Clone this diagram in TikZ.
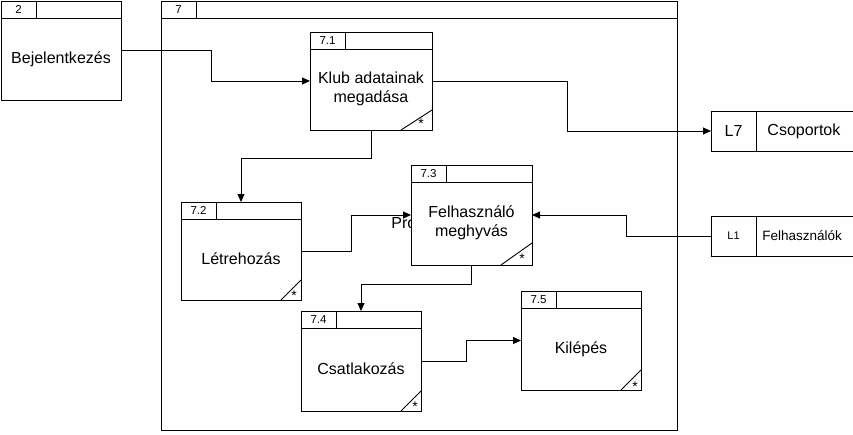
\documentclass[tikz,border=0pt]{standalone}
\usepackage{fontspec}
\setmainfont{Liberation Sans}
\usetikzlibrary{arrows.meta}

\tikzset{
    proc/.style={draw, fill=white, rectangle, inner sep=0pt, outer sep=0pt, anchor=north west},
    store/.style={draw, fill=white, rectangle, inner sep=0pt, outer sep=0pt, anchor=north west},
    title/.style={font=\fontsize{16}{18.5}\selectfont, align=center, inner sep=1pt},
    numlbl/.style={font=\fontsize{11.5}{13}\selectfont, inner sep=0pt},
    starlbl/.style={font=\fontsize{14}{16}\selectfont, inner sep=0pt},
    flow/.style={->}
}

\begin{document}
\begin{tikzpicture}[
    x=1pt, y=-1pt,
    >={Triangle[length=8pt,width=7pt]},
    line width=0.9pt
]
    \useasboundingbox (0,0) rectangle (853,434);

    % --- Outer processes ---
    \node[proc, minimum width=120pt, minimum height=99pt] (p2) at (1,1) {};
    \node[proc, minimum width=516pt, minimum height=429pt] (p7) at (161,1) {};

    % text partly hidden behind 7.3
    \node[title, anchor=base west, inner sep=0pt] (pro) at (391,228) {Pro};

    % --- Sub processes ---
    \node[proc, minimum width=122pt, minimum height=98pt] (p71) at (310,32) {};
    \node[proc, minimum width=120pt, minimum height=98pt] (p72) at (181,202) {};
    \node[proc, minimum width=121pt, minimum height=100pt] (p73) at (411,165) {};
    \node[proc, minimum width=120pt, minimum height=100pt] (p74) at (301,311) {};
    \node[proc, minimum width=120pt, minimum height=99pt] (p75) at (521,291) {};

    % headers
    \foreach \n/\num in {p2/2, p7/7, p71/7.1, p72/7.2, p73/7.3, p74/7.4, p75/7.5} {
        \draw ([yshift=-17pt]\n.north west) -- ([yshift=-17pt]\n.north east);
        \draw ([xshift=35pt]\n.north west) -- ++(0,17);
        \node[numlbl] (\n-num) at ([xshift=17.5pt,yshift=-8.5pt]\n.north west) {\num};
    }

    % corners
    \foreach \n/\w/\h/\sx/\sy in {p71/31/20/11/6, p72/20/20/7/4, p73/31/22/10/6, p74/20/20/6/4, p75/20/20/6/3} {
        \draw ([xshift=-\w pt]\n.south east) -- ([yshift=\h pt]\n.south east);
        \node[starlbl] (\n-star) at ([xshift=-\sx pt,yshift=\sy pt]\n.south east) {*};
    }

    % names
    \node[title] (p2-t) at ([yshift=-9pt]p2.center) {Bejelentkezés};
    \node[title] (p71-t) at ([yshift=-8pt]p71.center) {Klub adatainak\\megadása};
    \node[title] (p72-t) at ([yshift=-8pt]p72.center) {Létrehozás};
    \node[title] (p73-t) at ([yshift=-8pt]p73.center) {Felhasználó\\meghyvás};
    \node[title] (p74-t) at ([yshift=-8pt]p74.center) {Csatlakozás};
    \node[title] (p75-t) at ([yshift=-9pt]p75.center) {Kilépés};

    % --- Data stores ---
    \node[store, minimum width=45pt, minimum height=40pt, font=\fontsize{16}{18}\selectfont] (l7) at (711,111) {L7};
    \draw (l7.north east) -- ++(97,0);
    \draw (l7.south east) -- ++(97,0);
    \node[title, anchor=west] (l7-t) at ([xshift=10pt]l7.east) {Csoportok};

    \node[store, minimum width=45pt, minimum height=40pt, font=\fontsize{11}{13}\selectfont] (l1) at (711,216) {L1};
    \draw (l1.north east) -- ++(97,0);
    \draw (l1.south east) -- ++(97,0);
    \node[title, anchor=west, font=\fontsize{13.5}{16}\selectfont] (l1-t) at ([xshift=5pt]l1.east) {Felhasználók};

    % --- Flows ---
    \draw[flow] (p2.east) -- ++(90,0) |- (p71.west);
    \draw[flow] (p71.east) -- ++(135,0) |- (l7.west);
    \draw[flow] (p71.south) -- ++(0,28) -| (p72.north);
    \draw[flow] (p72.east) -- ++(50,0) |- (p73.west);
    \draw[flow] (l1.west) -- ++(-85,0) |- (p73.east);
    \draw[flow] (p73.south) -- ++(0,19) -| (p74.north);
    \draw[flow] (p74.east) -- ++(45,0) |- (p75.west);

\end{tikzpicture}
\end{document}
